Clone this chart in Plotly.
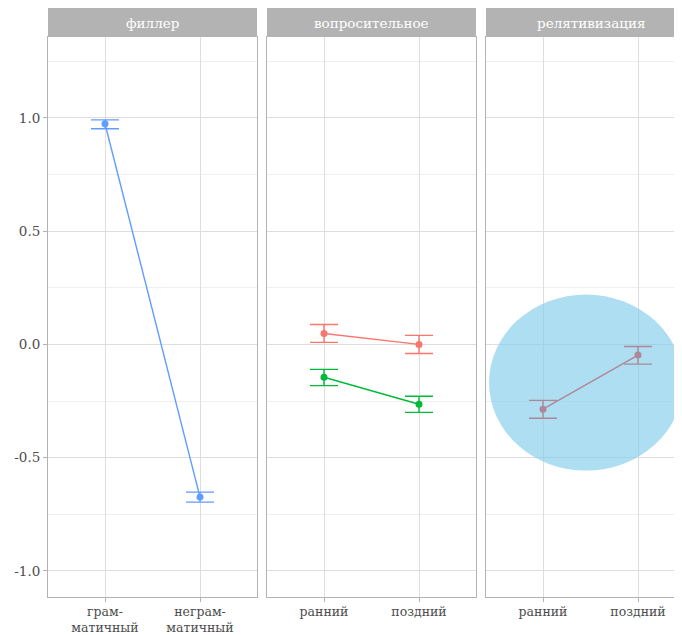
import plotly.graph_objects as go

# ---- data ----
panels = ["филлер", "вопросительное", "релятивизация"]

cat_filler = ["грам-<br>матичный", "неграм-<br>матичный"]
filler_mean = [0.974, -0.674]
filler_hi = [0.991, -0.652]
filler_lo = [0.952, -0.696]

cat_time = ["ранний", "поздний"]
q_red_mean = [0.048, 0.0]
q_red_hi = [0.088, 0.040]
q_red_lo = [0.009, -0.040]
q_green_mean = [-0.145, -0.264]
q_green_hi = [-0.110, -0.229]
q_green_lo = [-0.182, -0.300]

rel_mean = [-0.286, -0.047]
rel_hi = [-0.247, -0.009]
rel_lo = [-0.326, -0.087]

yticks = [-1.0, -0.5, 0.0, 0.5, 1.0]
ytick_text = ["-1.0", "-0.5", "0.0", "0.5", "1.0"]

FONT = "DejaVu Serif"
W, H = 682, 635
OFF = 8  # page body margin

def series(x, m, hi, lo, color, xa, ya):
    return go.Scatter(
        x=x, y=m, mode="lines+markers", xaxis=xa, yaxis=ya,
        line=dict(color=color, width=1.4),
        marker=dict(color=color, size=7),
        error_y=dict(type="data", symmetric=False,
                     array=[h - v for h, v in zip(hi, m)],
                     arrayminus=[v - l for v, l in zip(m, lo)],
                     color=color, thickness=1.4, width=14),
        showlegend=False, hoverinfo="skip")

fig = go.Figure()
fig.add_trace(series(cat_filler, filler_mean, filler_hi, filler_lo, "#619CFF", "x", "y"))
fig.add_trace(series(cat_time, q_red_mean, q_red_hi, q_red_lo, "#F8766D", "x2", "y2"))
fig.add_trace(series(cat_time, q_green_mean, q_green_hi, q_green_lo, "#00BA38", "x2", "y2"))
fig.add_trace(series(cat_time, rel_mean, rel_hi, rel_lo, "#AE8898", "x3", "y3"))

px = lambda p: (p - OFF) / W
py = lambda p: 1 - (p - OFF) / H

doms = [(48, 257), (267, 476), (486, 683)]
unit = 95.0
ranges = [[-0.6, -0.6 + (b - a) / unit] for a, b in doms]

TICKFONT = dict(family=FONT, size=13.5, color="#4D4D4D")
XTICKFONT = dict(family=FONT, size=12.5, color="#4D4D4D")
axis_common = dict(
    type="category", showgrid=True, gridcolor="#DEDEDE", gridwidth=1,
    zeroline=False, showline=True, mirror=True, linecolor="#B3B3B3", linewidth=1,
    ticks="outside", ticklen=4, tickcolor="#B3B3B3",
    tickfont=XTICKFONT, ticklabelstandoff=-1,
)
for i, ((a, b), rng) in enumerate(zip(doms, ranges)):
    key = "xaxis" if i == 0 else f"xaxis{i+1}"
    fig.layout[key] = dict(axis_common, domain=[px(a), px(b)], range=rng,
                           anchor="y" if i == 0 else f"y{i+1}",
                           categoryorder="array",
                           categoryarray=cat_filler if i == 0 else cat_time)
    fig.add_shape(type="rect", xref="paper", yref="paper",
                  x0=px(a), x1=px(b) if i < 2 else px(695), y0=py(37), y1=py(8),
                  fillcolor="#B3B3B3", line=dict(width=0), layer="above")
    cx = (a + b) / 2 if i < 2 else (a + 695) / 2
    fig.add_annotation(xref="paper", yref="paper", x=px(cx),
                       y=(py(37) + py(8)) / 2, text=panels[i], showarrow=False,
                       font=dict(family=FONT, size=13.5, color="white"),
                       xanchor="center", yanchor="middle")

ycommon = dict(domain=[py(597), py(37)], range=[-1.115, 1.357],
               tickvals=yticks, ticktext=ytick_text,
               showgrid=True, gridcolor="#DEDEDE", gridwidth=1,
               minor=dict(dtick=0.25, tick0=0.25, showgrid=True,
                          gridcolor="#EFEFEF", gridwidth=1),
               zeroline=False, showline=True, mirror=True,
               linecolor="#B3B3B3", linewidth=1)

fig.layout["yaxis"] = dict(ycommon, ticks="outside", ticklen=4, tickcolor="#B3B3B3",
                           tickfont=TICKFONT, anchor="x")
for i in (2, 3):
    fig.layout[f"yaxis{i}"] = dict(ycommon, matches="y", showticklabels=False,
                                   ticks="", anchor=f"x{i}")

# highlighted ellipse in panel 3
fig.add_shape(type="circle", xref="x3", yref="y3",
              x0=-0.568, x1=1.474, y0=-0.557, y1=0.22,
              fillcolor="rgb(135,206,235)", opacity=0.68,
              line=dict(width=0), layer="between")

fig.update_layout(width=W, height=H, margin=dict(l=0, r=0, t=0, b=0),
                  plot_bgcolor="white", paper_bgcolor="white",
                  showlegend=False)

fig.write_html("out.html")
